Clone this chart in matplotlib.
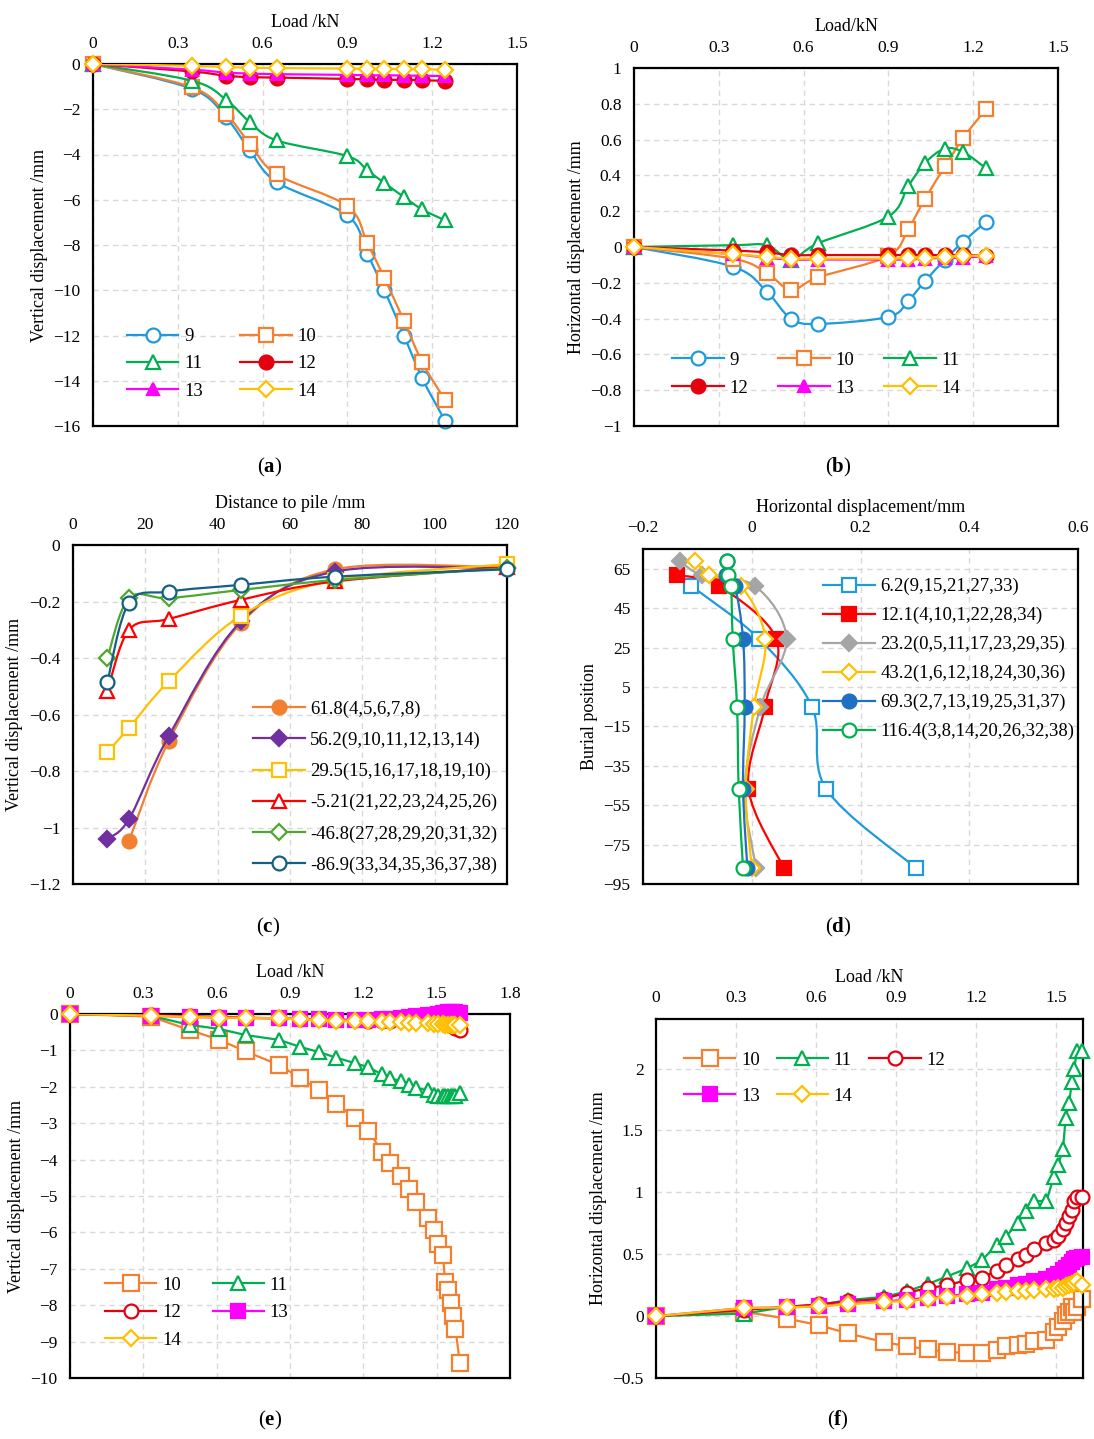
import numpy as np
import matplotlib
matplotlib.use("Agg")
import matplotlib.pyplot as plt
from matplotlib.path import Path
from matplotlib.patches import PathPatch
from matplotlib.lines import Line2D
from matplotlib.ticker import FuncFormatter

plt.rcParams['font.family'] = ['Liberation Serif', 'DejaVu Serif']
plt.rcParams['mathtext.fontset'] = 'custom'
plt.rcParams['mathtext.rm'] = 'Liberation Serif'
plt.rcParams['mathtext.bf'] = 'Liberation Serif:bold'
plt.rcParams['axes.unicode_minus'] = True

# ---------------- data ----------------
# (a) / (b) load steps, kN
load_ab = [0, 0.35, 0.47, 0.555, 0.65, 0.90, 0.97, 1.03, 1.10, 1.165, 1.245]
a_9 = [0, -1.1, -2.35, -3.82, -5.22, -6.69, -8.38, -9.97, -12.0, -13.9, -15.76]
a_10 = [0, -1.03, -2.2, -3.53, -4.88, -6.28, -7.91, -9.44, -11.35, -13.19, -14.85]
a_11 = [0, -0.74, -1.57, -2.57, -3.38, -4.07, -4.7, -5.25, -5.88, -6.43, -6.91]
a_12 = [0, -0.33, -0.52, -0.58, -0.6, -0.66, -0.68, -0.7, -0.7, -0.72, -0.74]
a_13 = [0, -0.25, -0.38, -0.42, -0.45, -0.48, -0.5, -0.5, -0.51, -0.52, -0.53]
a_14 = [0, -0.08, -0.14, -0.16, -0.18, -0.2, -0.21, -0.22, -0.22, -0.23, -0.25]

b_9 = [0, -0.11, -0.25, -0.40, -0.43, -0.39, -0.30, -0.19, -0.07, 0.03, 0.14]
b_10 = [0, -0.065, -0.145, -0.24, -0.17, -0.05, 0.10, 0.27, 0.45, 0.61, 0.77]
b_11 = [0, 0.01, 0.01, -0.07, 0.02, 0.17, 0.34, 0.47, 0.55, 0.53, 0.44]
b_12 = [0, -0.02, -0.03, -0.045, -0.045, -0.045, -0.045, -0.045, -0.045, -0.045, -0.05]
b_13 = [0, -0.04, -0.06, -0.07, -0.07, -0.07, -0.07, -0.065, -0.06, -0.06, -0.05]
b_14 = [0, -0.04, -0.055, -0.065, -0.065, -0.065, -0.06, -0.06, -0.055, -0.05, -0.05]

# (c) distance to pile, mm
dist = [9.5, 15.5, 26.5, 46.5, 72.5, 120]
c_618 = [-1.047, -0.694, -0.276, -0.086, -0.079]   # no point at 9.5
c_562 = [-1.04, -0.97, -0.676, -0.27, -0.094, -0.082]
c_295 = [-0.733, -0.647, -0.482, -0.25, -0.124, -0.068]
c_m521 = [-0.518, -0.30, -0.262, -0.194, -0.129, -0.079]
c_m468 = [-0.40, -0.188, -0.188, -0.159, -0.124, -0.082]
c_m869 = [-0.485, -0.204, -0.165, -0.141, -0.112, -0.086]
c_labels = ['61.8(4,5,6,7,8)', '56.2(9,10,11,12,13,14)', '29.5(15,16,17,18,19,10)',
            '-5.21(21,22,23,24,25,26)', '-46.8(27,28,29,20,31,32)', '-86.9(33,34,35,36,37,38)']

# (d) burial position
burial = [68.9, 61.8, 56.2, 29.5, -5.21, -46.8, -86.9]
d_62 = [-0.111, 0.013, 0.111, 0.137, 0.302]        # from 56.2 down
d_121 = [-0.138, -0.06, 0.045, 0.024, -0.006, 0.059]  # from 61.8 down
d_232 = [-0.132, -0.092, 0.006, 0.064, 0.016, -0.013, 0.008]
d_432 = [-0.104, -0.078, -0.020, 0.025, 0.004, -0.011, 0.0]
d_693 = [-0.045, -0.047, -0.031, -0.016, -0.013, -0.016, -0.008]
d_1164 = [-0.045, -0.043, -0.038, -0.035, -0.027, -0.024, -0.016]
d_labels = ['6.2(9,15,21,27,33)', '12.1(4,10,1,22,28,34)', '23.2(0,5,11,17,23,29,35)',
            '43.2(1,6,12,18,24,30,36)', '69.3(2,7,13,19,25,31,37)', '116.4(3,8,14,20,26,32,38)']

# (e) / (f) load steps, kN
load_ef = [0, 0.33, 0.49, 0.61, 0.72, 0.855, 0.94, 1.02, 1.09, 1.165, 1.22, 1.277, 1.31,
           1.355, 1.385, 1.417, 1.463, 1.49, 1.507, 1.525, 1.535, 1.548, 1.558, 1.567, 1.577, 1.595]
e_10 = [0, -0.07, -0.44, -0.71, -1.03, -1.40, -1.75, -2.10, -2.47, -2.85, -3.21, -3.78, -4.10,
        -4.46, -4.81, -5.17, -5.61, -5.93, -6.31, -6.61, -7.35, -7.58, -7.94, -8.31, -8.65, -9.59]
e_11 = [0, -0.05, -0.30, -0.41, -0.58, -0.71, -0.90, -1.05, -1.20, -1.35, -1.46, -1.66, -1.77,
        -1.84, -1.95, -2.04, -2.09, -2.22, -2.25, -2.26, -2.26, -2.25, -2.25, -2.24, -2.24, -2.18]
e_12 = [0, -0.03, -0.06, -0.08, -0.1, -0.12, -0.14, -0.15, -0.16, -0.17, -0.18, -0.18, -0.18,
        -0.17, -0.16, -0.15, -0.14, -0.14, -0.15, -0.18, -0.2, -0.24, -0.28, -0.33, -0.38, -0.44]
e_13 = [0, -0.05, -0.08, -0.1, -0.11, -0.12, -0.14, -0.15, -0.16, -0.16, -0.16, -0.15, -0.13,
        -0.1, -0.08, -0.06, -0.04, -0.02, 0.0, 0.02, 0.04, 0.05, 0.06, 0.06, 0.05, 0.04]
e_14 = [0, -0.05, -0.08, -0.1, -0.11, -0.12, -0.15, -0.17, -0.18, -0.19, -0.2, -0.22, -0.22,
        -0.23, -0.24, -0.25, -0.26, -0.27, -0.28, -0.28, -0.29, -0.29, -0.29, -0.29, -0.29, -0.3]

f_10 = [0, 0.035, -0.02, -0.073, -0.14, -0.21, -0.243, -0.268, -0.29, -0.297, -0.297, -0.27, -0.243,
        -0.235, -0.222, -0.20, -0.195, -0.127, -0.092, -0.04, 0.008, 0.035, 0.076, 0.03, 0.07, 0.135]
f_11 = [0, 0.02, 0.075, 0.09, 0.13, 0.155, 0.20, 0.26, 0.32, 0.385, 0.45, 0.575, 0.64,
        0.75, 0.845, 0.93, 0.93, 1.12, 1.22, 1.35, 1.6, 1.72, 1.89, 2.0, 2.14, 2.14]
f_12 = [0, 0.05, 0.075, 0.095, 0.12, 0.14, 0.19, 0.225, 0.25, 0.29, 0.31, 0.367, 0.41,
        0.46, 0.495, 0.54, 0.59, 0.615, 0.65, 0.70, 0.75, 0.805, 0.86, 0.93, 0.96, 0.96]
f_13 = [0, 0.065, 0.07, 0.08, 0.1, 0.12, 0.13, 0.15, 0.16, 0.18, 0.19, 0.22, 0.23,
        0.25, 0.26, 0.28, 0.30, 0.32, 0.34, 0.37, 0.39, 0.41, 0.44, 0.46, 0.47, 0.48]
f_14 = [0, 0.065, 0.07, 0.078, 0.095, 0.115, 0.12, 0.14, 0.155, 0.165, 0.175, 0.19, 0.195,
        0.20, 0.205, 0.21, 0.215, 0.22, 0.225, 0.23, 0.24, 0.25, 0.26, 0.27, 0.28, 0.25]

# colours
BLUE = '#1F9BDB'
ORANGE = '#F47F2F'
GREEN = '#00B050'
RED = '#E3000F'
MAGENTA = '#FF00FF'
GOLD = '#FFC000'


def smooth_path(x, y):
    # Excel-like smoothed line (Catmull-Rom as cubic Bezier)
    x = np.asarray(x, float)
    y = np.asarray(y, float)
    n = len(x)
    verts = [(x[0], y[0])]
    codes = [Path.MOVETO]
    for i in range(n - 1):
        xa, ya = (x[i - 1], y[i - 1]) if i > 0 else (x[i], y[i])
        xb, yb = (x[i + 2], y[i + 2]) if i + 2 < n else (x[i + 1], y[i + 1])
        verts.append((x[i] + (x[i + 1] - xa) / 6, y[i] + (y[i + 1] - ya) / 6))
        verts.append((x[i + 1] - (xb - x[i]) / 6, y[i + 1] - (yb - y[i]) / 6))
        verts.append((x[i + 1], y[i + 1]))
        codes += [Path.CURVE4] * 3
    return Path(verts, codes)


def series(ax, x, y, color, marker, ms, filled, label, z, smooth=True, lw=1.6):
    if smooth:
        ax.add_patch(PathPatch(smooth_path(x, y), fill=False, ec=color, lw=lw, zorder=z))
    else:
        ax.plot(x, y, '-', color=color, lw=lw, zorder=z)
    face = color if filled else 'white'
    ax.plot(x, y, ls='none', marker=marker, ms=ms, mfc=face, mec=color, mew=1.6,
            zorder=z + 0.5, clip_on=False)
    return Line2D([], [], color=color, lw=lw, marker=marker, ms=ms, mfc=face,
                  mec=color, mew=1.6, label=label)


def fmt(v, pos):
    return ('%g' % (round(v, 6) + 0.0)).replace('-', '\u2212')


def setup(ax, xlim, xticks, ylim, yticks, xlabel, ylabel):
    ax.set_xlim(xlim)
    ax.set_ylim(ylim)
    ax.set_xticks(xticks)
    ax.set_yticks(yticks)
    ax.xaxis.tick_top()
    ax.xaxis.set_label_position('top')
    ax.xaxis.set_major_formatter(FuncFormatter(fmt))
    ax.yaxis.set_major_formatter(FuncFormatter(fmt))
    ax.set_xlabel(xlabel, fontsize=13, labelpad=6)
    ax.set_ylabel(ylabel, fontsize=13, labelpad=4)
    ax.grid(True, color='#D9D9D9', ls=(0, (4, 3)), lw=1)
    ax.set_axisbelow(True)
    ax.tick_params(length=0, pad=9, labelsize=12.5)
    for s in ax.spines.values():
        s.set_linewidth(1.6)


def legend(ax, handles, order, anchor, ncol, spacing, colsp):
    hs = [handles[i] for i in order]
    ax.legend(handles=hs, loc='upper left', bbox_to_anchor=anchor, ncol=ncol, frameon=False,
              fontsize=13.5, numpoints=1, handlelength=2.75, handletextpad=0.3,
              labelspacing=spacing, columnspacing=colsp, borderpad=0, borderaxespad=0)


W, H = 1094, 1439
fig = plt.figure(figsize=(W / 100, H / 100), dpi=100)


def box(left, right, top, bottom):
    return [left / W, 1 - bottom / H, (right - left) / W, (bottom - top) / H]


# ---------------- (a) ----------------
ax = fig.add_axes(box(93, 517, 64, 426))
setup(ax, (0, 1.5), np.arange(0, 1.51, 0.3), (-16, 0), np.arange(-16, 0.1, 2),
      'Load /kN', 'Vertical displacement /mm')
h = [series(ax, load_ab, a_9, BLUE, 'o', 10, False, '9', 2),
     series(ax, load_ab, a_10, ORANGE, 's', 10, False, '10', 3),
     series(ax, load_ab, a_11, GREEN, '^', 10, False, '11', 4),
     series(ax, load_ab, a_12, RED, 'o', 10, True, '12', 5),
     series(ax, load_ab, a_13, MAGENTA, '^', 9, True, '13', 6),
     series(ax, load_ab, a_14, GOLD, 'D', 8, False, '14', 7)]
legend(ax, h, [0, 2, 4, 1, 3, 5], (0.08, 0.27), 2, 0.53, 2.0)

# ---------------- (b) ----------------
ax = fig.add_axes(box(634, 1058, 68, 426))
setup(ax, (0, 1.5), np.arange(0, 1.51, 0.3), (-1, 1), np.arange(-1, 1.01, 0.2),
      'Load/kN', 'Horizontal displacement /mm')
h = [series(ax, load_ab, b_9, BLUE, 'o', 10, False, '9', 2),
     series(ax, load_ab, b_10, ORANGE, 's', 10, False, '10', 3),
     series(ax, load_ab, b_11, GREEN, '^', 10, False, '11', 4),
     series(ax, load_ab, b_12, RED, 'o', 10, True, '12', 5),
     series(ax, load_ab, b_13, MAGENTA, '^', 9, True, '13', 6),
     series(ax, load_ab, b_14, GOLD, 'D', 8, False, '14', 7)]
legend(ax, h, [0, 3, 1, 4, 2, 5], (0.09, 0.208), 3, 0.6, 1.6)

# ---------------- (c) ----------------
ax = fig.add_axes(box(73, 507, 545, 884))
setup(ax, (0, 120), np.arange(0, 121, 20), (-1.2, 0), np.arange(-1.2, 0.01, 0.2),
      'Distance to pile /mm', 'Vertical displacement /mm')
h = [series(ax, dist[1:], c_618, '#F28030', 'o', 10, True, c_labels[0], 2),
     series(ax, dist, c_562, '#7030A0', 'D', 8, True, c_labels[1], 3),
     series(ax, dist, c_295, GOLD, 's', 10, False, c_labels[2], 4),
     series(ax, dist, c_m521, '#FF0000', '^', 10, False, c_labels[3], 5),
     series(ax, dist, c_m468, '#4EA72E', 'D', 8, False, c_labels[4], 6),
     series(ax, dist, c_m869, '#156082', 'o', 10, False, c_labels[5], 7)]
legend(ax, h, range(6), (0.415, 0.541), 1, 0.74, 1.0)

# ---------------- (d) ----------------
ax = fig.add_axes(box(643, 1078, 549, 884))
setup(ax, (-0.2, 0.6), np.arange(-0.2, 0.61, 0.2), (-95, 75), np.arange(-95, 66, 20),
      'Horizontal displacement/mm', 'Burial position')
h = [series(ax, d_62, burial[2:], BLUE, 's', 10, False, d_labels[0], 2),
     series(ax, d_121, burial[1:], '#FF0000', 's', 10, True, d_labels[1], 3),
     series(ax, d_232, burial, '#A5A5A5', 'D', 8, True, d_labels[2], 4),
     series(ax, d_432, burial, GOLD, 'D', 8, False, d_labels[3], 5),
     series(ax, d_693, burial, '#1F6FC5', 'o', 10, True, d_labels[4], 6),
     series(ax, d_1164, burial, GREEN, 'o', 10, False, d_labels[5], 7)]
legend(ax, h, range(6), (0.414, 0.913), 1, 0.62, 1.0)

# ---------------- (e) ----------------
ax = fig.add_axes(box(70, 510, 1014, 1378))
setup(ax, (0, 1.8), np.arange(0, 1.81, 0.3), (-10, 0), np.arange(-10, 0.1, 1),
      'Load /kN', 'Vertical displacement /mm')
h = [series(ax, load_ef, e_10, ORANGE, 's', 11, False, '10', 2, smooth=False),
     series(ax, load_ef, e_11, GREEN, '^', 10, False, '11', 3, smooth=False),
     series(ax, load_ef, e_12, RED, 'o', 10, False, '12', 4, smooth=False),
     series(ax, load_ef, e_13, MAGENTA, 's', 10, True, '13', 5, smooth=False),
     series(ax, load_ef, e_14, GOLD, 'D', 8, False, '14', 6, smooth=False)]
legend(ax, h, [0, 2, 4, 1, 3], (0.079, 0.279), 2, 0.56, 1.7)

# ---------------- (f) ----------------
ax = fig.add_axes(box(656, 1083, 1019, 1378))
setup(ax, (0, 1.6), np.arange(0, 1.51, 0.3), (-0.5, 2.4), np.arange(-0.5, 2.01, 0.5),
      'Load /kN', 'Horizontal displacement /mm')
h = [series(ax, load_ef, f_10, ORANGE, 's', 11, False, '10', 2, smooth=False),
     series(ax, load_ef, f_11, GREEN, '^', 10, False, '11', 3, smooth=False),
     series(ax, load_ef, f_12, RED, 'o', 10, False, '12', 4, smooth=False),
     series(ax, load_ef, f_13, MAGENTA, 's', 10, True, '13', 5, smooth=False),
     series(ax, load_ef, f_14, GOLD, 'D', 8, False, '14', 6, smooth=False)]
legend(ax, h, [0, 3, 1, 4, 2], (0.065, 0.909), 3, 1.0, 0.9)

# panel labels
for lab, px, py in [('a', 270, 467), ('b', 838, 467), ('c', 268, 927),
                    ('d', 838, 927), ('e', 270, 1420), ('f', 838, 1420)]:
    fig.text(px / W, 1 - py / H, '(' + r'$\mathbf{' + lab + '}$' + ')',
             ha='center', va='center', fontsize=15)

fig.savefig('out.png', dpi=100)
